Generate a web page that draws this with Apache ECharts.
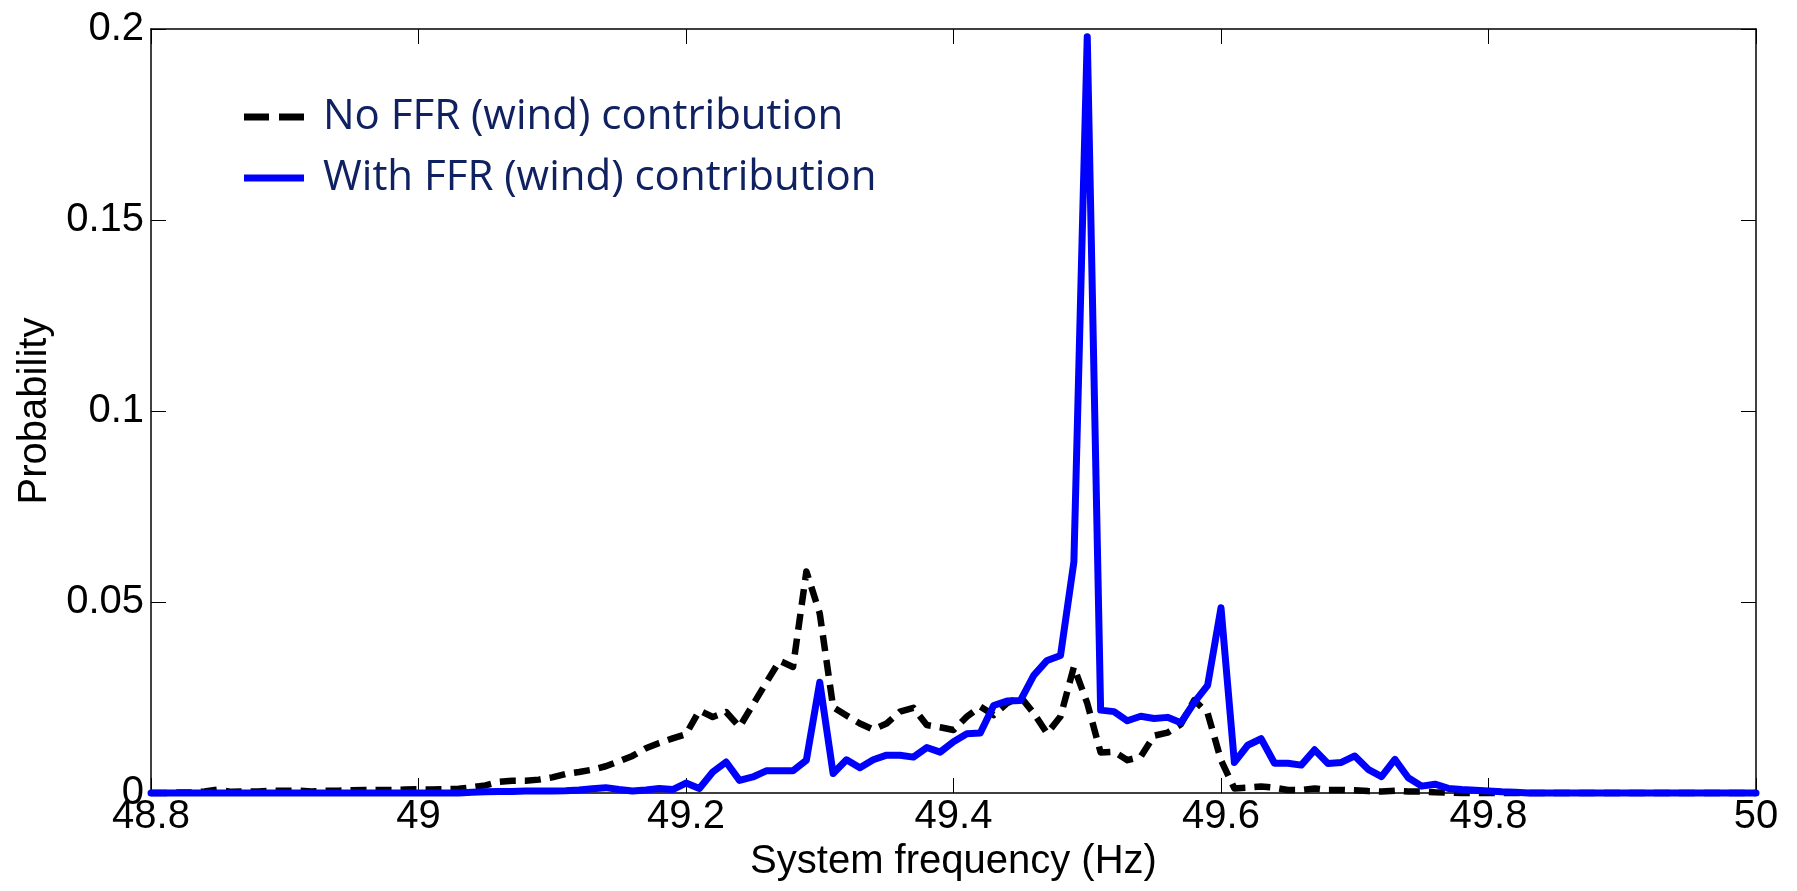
<!DOCTYPE html>
<html>
<head>
<meta charset="utf-8">
<script src="https://cdn.jsdelivr.net/npm/echarts@6/dist/echarts.min.js"></script>
<style>
html,body{margin:0;padding:0;background:#fff;}
#chart{width:1797px;height:891px;}
</style>
</head>
<body>
<div id="chart"></div>
<script>
// Frequency grid (Hz)
const freq = [
48.80,48.81,48.82,48.83,48.84,48.85,48.86,48.87,48.88,48.89,
48.90,48.91,48.92,48.93,48.94,48.95,48.96,48.97,48.98,48.99,
49.00,49.01,49.02,49.03,49.04,49.05,49.06,49.07,49.08,49.09,
49.10,49.11,49.12,49.13,49.14,49.15,49.16,49.17,49.18,49.19,
49.20,49.21,49.22,49.23,49.24,49.25,49.26,49.27,49.28,49.29,
49.30,49.31,49.32,49.33,49.34,49.35,49.36,49.37,49.38,49.39,
49.40,49.41,49.42,49.43,49.44,49.45,49.46,49.47,49.48,49.49,
49.50,49.51,49.52,49.53,49.54,49.55,49.56,49.57,49.58,49.59,
49.60,49.61,49.62,49.63,49.64,49.65,49.66,49.67,49.68,49.69,
49.70,49.71,49.72,49.73,49.74,49.75,49.76,49.77,49.78,49.79,
49.80,49.81,49.82,49.83,49.84,49.85,49.86,49.87,49.88,49.89,
49.90,49.91,49.92,49.93,49.94,49.95,49.96,49.97,49.98,49.99,
50.00
];

// No FFR (wind) contribution
const noFFR = [
0,0,0.0001,0.0001,0.0004,0.0009,0.0003,0.0004,0.0004,0.0006,
0.0006,0.0006,0.0004,0.0006,0.0006,0.0007,0.0008,0.0008,0.0008,0.0009,
0.0010,0.0009,0.0010,0.0011,0.0015,0.0020,0.0029,0.0032,0.0032,0.0035,
0.0041,0.0050,0.0055,0.0061,0.0070,0.0083,0.0097,0.0117,0.0131,0.0143,
0.0154,0.0216,0.0199,0.0212,0.0173,0.0231,0.0289,0.0346,0.0330,0.0580,
0.0470,0.0225,0.0203,0.0182,0.0166,0.0182,0.0213,0.0223,0.0178,0.0172,
0.0165,0.0200,0.0226,0.0204,0.0235,0.0252,0.0209,0.0156,0.0200,0.0330,
0.0235,0.0106,0.0108,0.0086,0.0095,0.0150,0.0158,0.0180,0.0243,0.0209,
0.0086,0.0012,0.0014,0.0017,0.0014,0.0008,0.0008,0.0012,0.0008,0.0008,
0.0007,0.0005,0.0004,0.0006,0.0004,0.0004,0.0002,0.0001,0,0,
0,0,0,0,0,0,0,0,0,0,
0,0,0,0,0,0,0,0,0,0,
0
];

// With FFR (wind) contribution
const withFFR = [
0,0,0,0,0,0,0,0,0,0,
0,0,0,0,0,0,0,0,0,0,
0,0,0,0,0.0002,0.0003,0.0004,0.0004,0.0005,0.0005,
0.0005,0.0006,0.0008,0.0011,0.0014,0.0009,0.0005,0.0008,0.0012,0.0009,
0.0026,0.0012,0.0055,0.0081,0.0033,0.0042,0.0058,0.0058,0.0058,0.0086,
0.0290,0.0051,0.0087,0.0066,0.0087,0.0099,0.0099,0.0094,0.0119,0.0107,
0.0134,0.0155,0.0157,0.0229,0.0241,0.0242,0.0308,0.0347,0.0360,0.0605,
0.1980,0.0217,0.0213,0.0189,0.0201,0.0195,0.0198,0.0184,0.0237,0.0282,
0.0485,0.0080,0.0125,0.0142,0.0078,0.0078,0.0073,0.0113,0.0077,0.0080,
0.0097,0.0062,0.0043,0.0088,0.0040,0.0018,0.0023,0.0012,0.0009,0.0007,
0.0005,0.0003,0.0002,0,0,0,0,0,0,0,
0,0,0,0,0,0,0,0,0,0,
0
];

const seriesNames = ['No FFR (wind) contribution', 'With FFR (wind) contribution'];
const xTicks = [48.8, 49, 49.2, 49.4, 49.6, 49.8, 50];
const yTicks = [0, 0.05, 0.1, 0.15, 0.2];
const xLabel = 'System frequency (Hz)';
const yLabel = 'Probability';

const pairs = (ys) => freq.map((f, i) => [f, ys[i]]);
const tickFont = { fontFamily: '"Liberation Sans", Arial, sans-serif', fontSize: 40, color: '#000' };

const chart = echarts.init(document.getElementById('chart'), null, { renderer: 'canvas' });
const axisLineStyle = { color: '#000', width: 1.5 };
const tickStyle = { show: true, inside: true, length: 15, lineStyle: { color: '#000', width: 1 } };
const mirrorX = {
  type: 'value', position: 'top', min: xTicks[0], max: xTicks[xTicks.length-1], interval: 0.2,
  axisLine: { show: true, onZero: false, lineStyle: axisLineStyle },
  axisTick: tickStyle, axisLabel: { show: false }, splitLine: { show: false }
};
const mirrorY = {
  type: 'value', position: 'right', min: yTicks[0], max: yTicks[yTicks.length-1], interval: 0.05,
  axisLine: { show: true, onZero: false, lineStyle: axisLineStyle },
  axisTick: tickStyle, axisLabel: { show: false }, splitLine: { show: false }
};

chart.setOption({
  animation: false,
  backgroundColor: '#fff',
  grid: { left: 151, right: 41, top: 29, bottom: 98, containLabel: false },
  legend: {
    orient: 'vertical', left: 244, top: 95, padding: 0,
    itemWidth: 60, itemHeight: 7, itemGap: 17,
    data: [
      { name: seriesNames[0], icon: 'path://M0,0H25V7H0Z M35,0H60V7H35Z', itemStyle: { color: '#000' } },
      { name: seriesNames[1], icon: 'path://M0,0H60V7H0Z', itemStyle: { color: '#0000FF' } }
    ],
    textStyle: { fontFamily: '"Open Sans", sans-serif', fontSize: 42, color: '#0F2160', lineHeight: 44, padding: [0, 0, 0, 14] }
  },
  xAxis: [{
    type: 'value', position: 'bottom', min: xTicks[0], max: xTicks[xTicks.length-1], interval: 0.2,
    name: xLabel, nameLocation: 'middle', nameGap: 27,
    nameTextStyle: tickFont,
    axisLine: { show: true, onZero: false, lineStyle: axisLineStyle },
    axisTick: tickStyle,
    axisLabel: Object.assign({ margin: 4, formatter: (v) => String(+v.toFixed(2)) }, tickFont),
    splitLine: { show: false }
  }, mirrorX],
  yAxis: [{
    type: 'value', position: 'left', min: yTicks[0], max: yTicks[yTicks.length-1], interval: 0.05,
    name: yLabel, nameLocation: 'middle', nameGap: 92,
    nameTextStyle: tickFont,
    axisLine: { show: true, onZero: false, lineStyle: axisLineStyle },
    axisTick: tickStyle,
    axisLabel: Object.assign({ margin: 7, formatter: (v) => String(+v.toFixed(2)) }, tickFont),
    splitLine: { show: false }
  }, mirrorY],
  series: [
    {
      name: seriesNames[0], type: 'line', data: pairs(noFFR), showSymbol: false, symbol: 'none',
      clip: false, z: 2,
      lineStyle: { color: '#000', width: 6.5, type: [16, 9], cap: 'butt', join: 'round' },
      itemStyle: { color: '#000' }
    },
    {
      name: seriesNames[1], type: 'line', data: pairs(withFFR), showSymbol: false, symbol: 'none',
      clip: false, z: 3,
      lineStyle: { color: '#0000FF', width: 7, cap: 'round', join: 'round' },
      itemStyle: { color: '#0000FF' }
    }
  ]
});
</script>
</body>
</html>
